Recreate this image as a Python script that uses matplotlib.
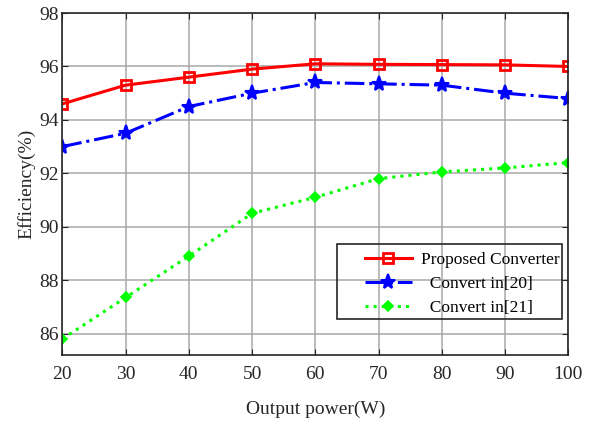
import matplotlib
matplotlib.use("Agg")
import matplotlib.pyplot as plt
from matplotlib.patches import Rectangle

power = [20, 30, 40, 50, 60, 70, 80, 90, 100]
proposed = [94.6, 95.3, 95.6, 95.9, 96.1, 96.08, 96.07, 96.06, 96.0]
conv20 = [93.0, 93.5, 94.5, 95.0, 95.4, 95.35, 95.3, 95.0, 94.8]
conv21 = [85.8, 87.35, 88.9, 90.5, 91.1, 91.8, 92.05, 92.2, 92.4]
labels = ["Proposed Converter", "  Convert in[20]", "  Convert in[21]"]

plt.rcParams["font.family"] = ["Liberation Serif", "DejaVu Serif"]

fig = plt.figure(figsize=(6, 4.21), dpi=100)
ax = fig.add_axes([0.104, 0.157, 0.843, 0.812])

ax.plot(power, proposed, color="red", lw=2.2, marker="s", ms=6.5, mfc="none", mew=2,
        label=labels[0])
ax.plot(power, conv20, color="blue", lw=2.2, ls="-.", marker="*", ms=11, mew=1.5,
        label=labels[1])
ax.plot(power, conv21, color="#00ff00", lw=2.2, ls=":", marker="D", ms=5.5, mew=1.2,
        label=labels[2])

ax.set_xlim(20, 100)
ax.set_ylim(85.2, 98)
ax.set_xticks(range(20, 101, 10))
ax.set_yticks(range(86, 99, 2))
ax.grid(True, color="#a8a8a8", lw=1.1)
ax.tick_params(direction="in", labelsize=14, colors="#262626", top=True, right=True,
               length=4)
ax.tick_params(axis="x", pad=8)
ax.tick_params(axis="y", pad=2.5)
for s in ax.spines.values():
    s.set_color("#262626")
    s.set_linewidth(1.2)
ax.set_xlabel("Output power(W)", fontsize=14, color="#262626", labelpad=13)
ax.set_ylabel("Efficiency(%)", fontsize=14, color="#262626", labelpad=3)

# MATLAB-style legend: frameless content plus a separate box
leg = ax.legend(loc="upper left", bbox_to_anchor=(365 / 600, 1 - 252 / 421),
                bbox_transform=fig.transFigure, fontsize=12.5, frameon=False,
                borderpad=0, borderaxespad=0, handlelength=2.7, handletextpad=0.55,
                labelspacing=0.45)
fig.patches.append(Rectangle((337 / 600, 1 - 319 / 421), 225 / 600, 75 / 421,
                             transform=fig.transFigure, fill=False,
                             edgecolor="#262626", lw=1.2, zorder=5))

fig.savefig("out.png", dpi=100)
